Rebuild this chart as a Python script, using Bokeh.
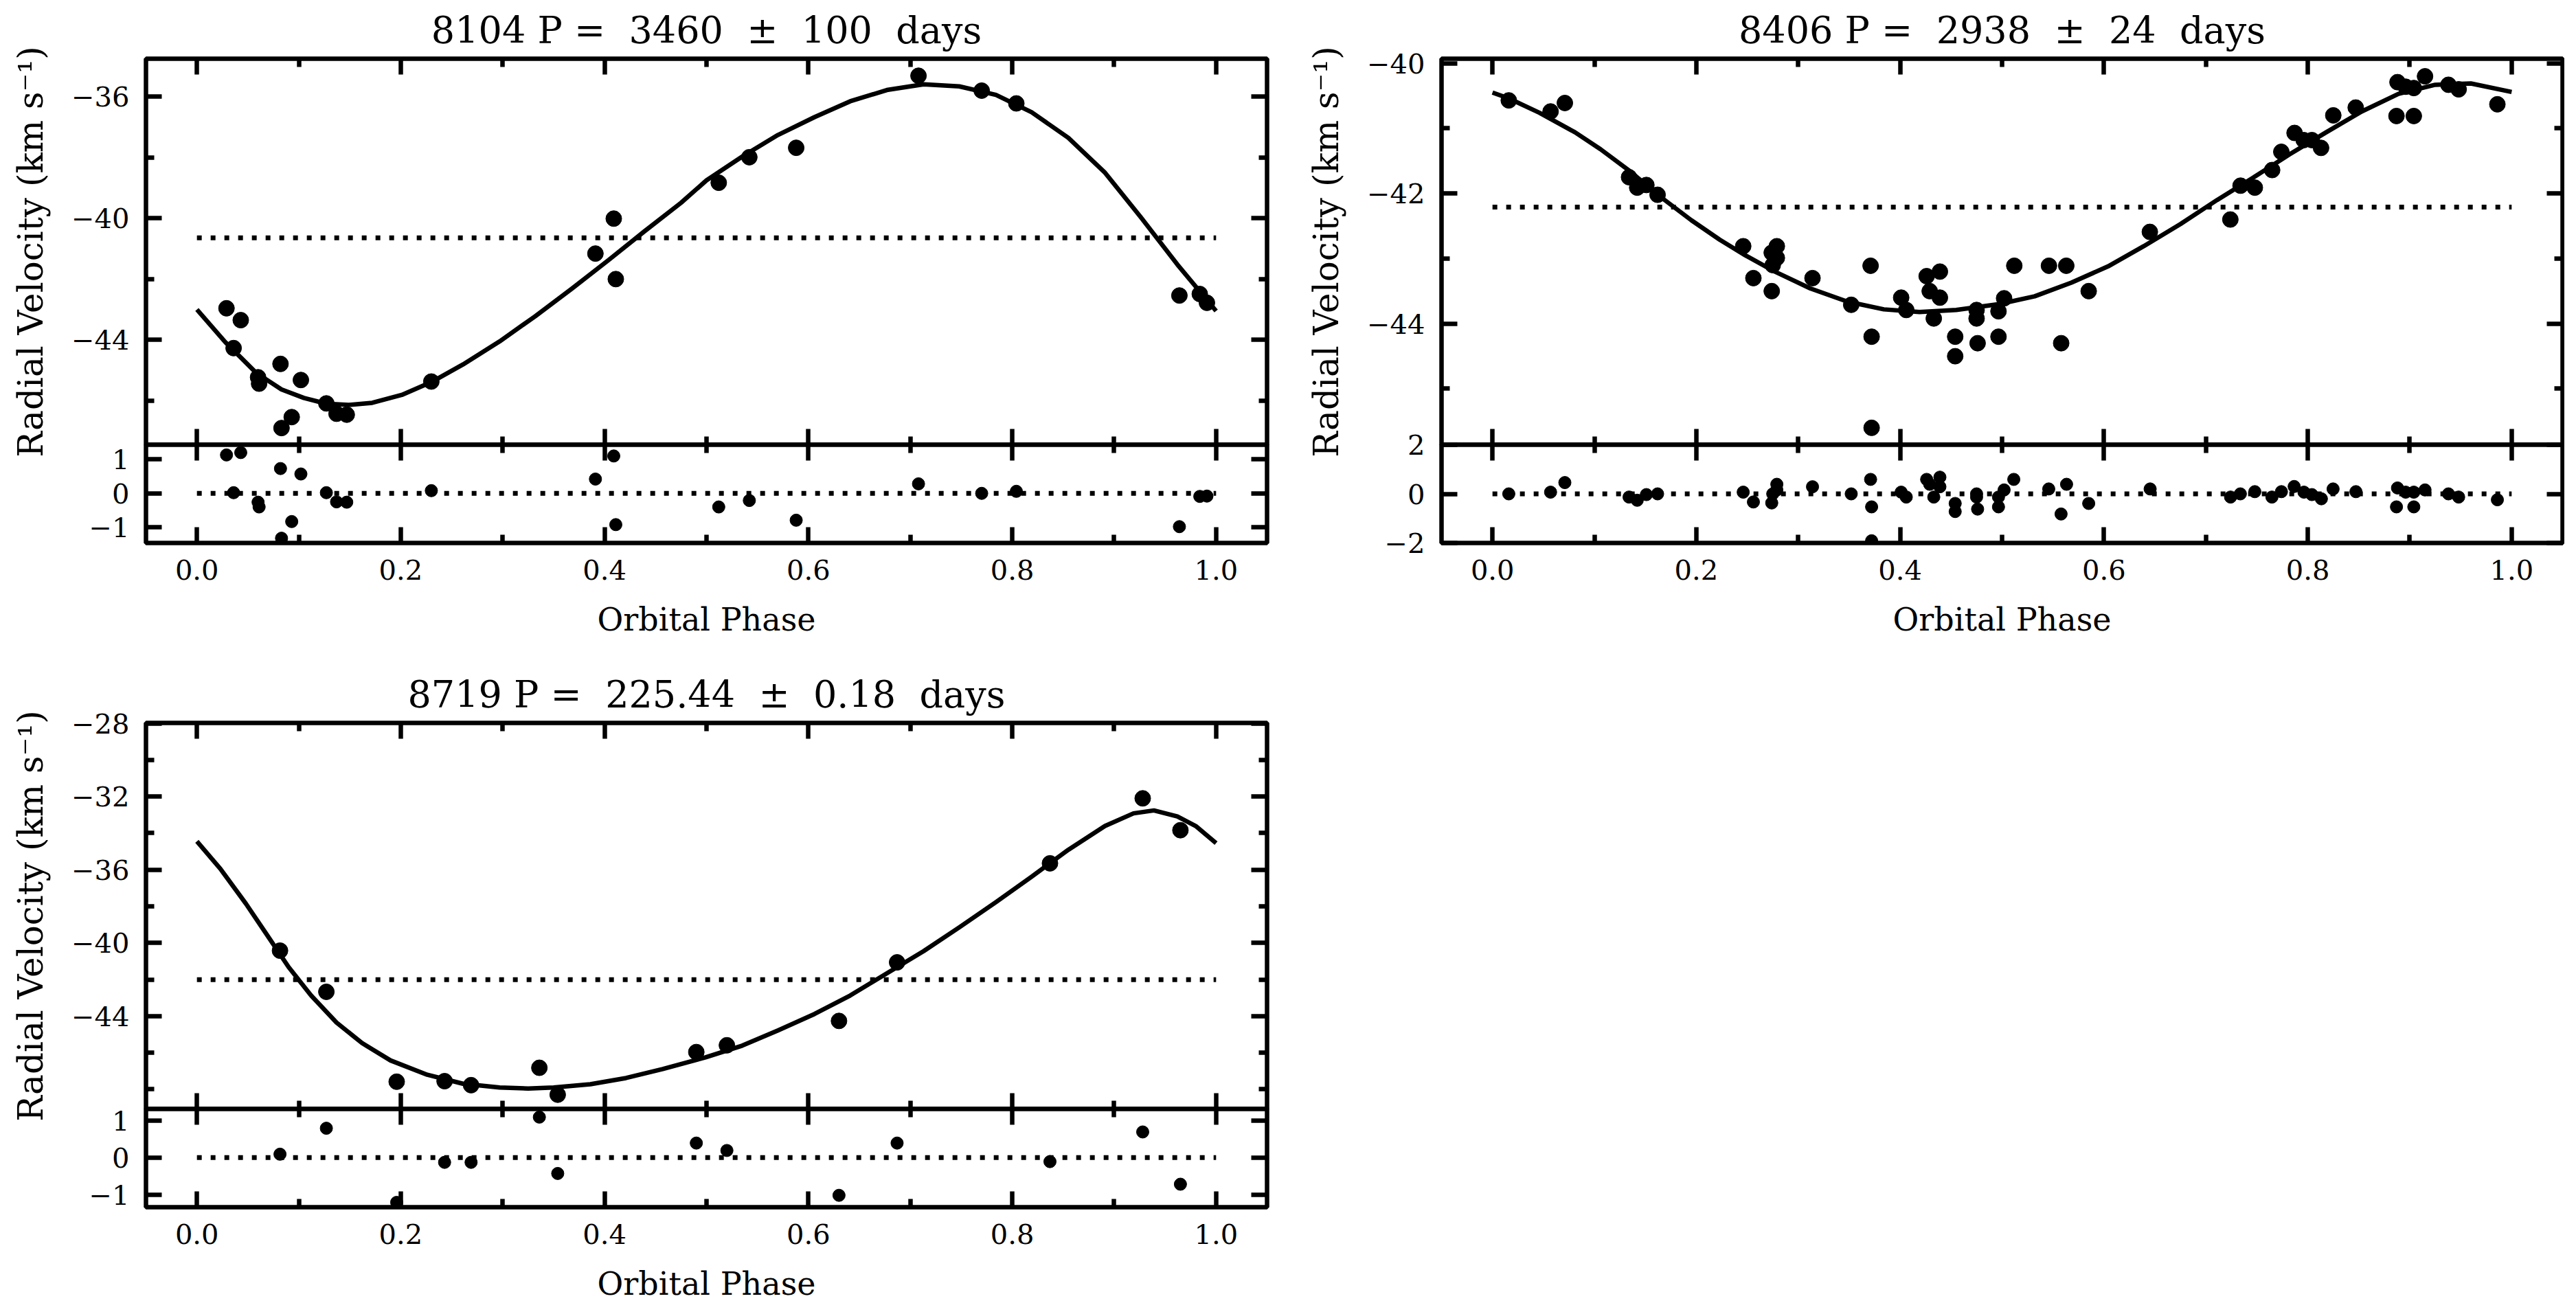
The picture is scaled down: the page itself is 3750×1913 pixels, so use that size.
from bokeh.plotting import figure
from bokeh.models import Range1d, FixedTicker, LinearAxis, CustomJSTickFormatter, PrintfTickFormatter
from bokeh.layouts import row, column
from bokeh.embed import file_html
from bokeh.resources import INLINE

# ------------------------------------------------------------------ data
star_ids = ["8104", "8406", "8719"]
periods = ["3460", "2938", "225.44"]
period_errs = ["100", "24", "0.18"]
gammas = [-40.64, -42.21, -42.01]
phase_span = [0.0, 1.0]

# --- 8104
phase1 = [0.029, 0.043, 0.036, 0.060, 0.061, 0.082, 0.102, 0.083, 0.093, 0.127, 0.137, 0.147,
          0.230, 0.391, 0.409, 0.411, 0.512, 0.542, 0.588, 0.708, 0.770, 0.804, 0.964, 0.984, 0.991]
rv1 = [-42.96, -43.35, -44.27, -45.23, -45.44, -44.79, -45.32, -46.90, -46.54, -46.09, -46.43, -46.46,
       -45.37, -41.16, -40.01, -42.00, -38.83, -37.99, -37.68, -35.31, -35.80, -36.22, -42.54, -42.49, -42.78]
res1 = [1.13, 1.20, 0.02, -0.26, -0.40, 0.73, 0.57, -1.32, -0.83, 0.02, -0.25, -0.26,
        0.08, 0.42, 1.10, -0.92, -0.40, -0.21, -0.79, 0.28, 0.00, 0.06, -0.98, -0.09, -0.08]
curve1_phase = [0.0, 0.028, 0.044, 0.058, 0.083, 0.105, 0.127, 0.149, 0.172, 0.201, 0.230, 0.261,
                0.297, 0.332, 0.368, 0.404, 0.439, 0.475, 0.500, 0.535, 0.570, 0.606, 0.641, 0.677,
                0.713, 0.748, 0.784, 0.819, 0.855, 0.891, 0.926, 0.962, 1.0]
curve1_rv = [-43.00, -44.08, -44.61, -45.08, -45.63, -45.91, -46.10, -46.14, -46.07, -45.81, -45.39, -44.81,
             -44.05, -43.22, -42.31, -41.37, -40.43, -39.49, -38.75, -37.97, -37.26, -36.67, -36.15, -35.78,
             -35.59, -35.66, -35.94, -36.51, -37.35, -38.50, -39.96, -41.52, -43.05]

# --- 8406
phase2 = [0.016, 0.057, 0.071, 0.134, 0.142, 0.151, 0.162, 0.246, 0.256, 0.274, 0.279, 0.279, 0.275, 0.274,
          0.314, 0.352, 0.371, 0.372, 0.372, 0.401, 0.406, 0.426, 0.439, 0.429, 0.439, 0.433, 0.454, 0.454,
          0.475, 0.475, 0.476, 0.502, 0.4965, 0.4965, 0.512, 0.546, 0.563, 0.558, 0.585, 0.645, 0.724, 0.734,
          0.748, 0.765, 0.774, 0.787, 0.796, 0.804, 0.813, 0.825, 0.847, 0.888, 0.896, 0.904, 0.915, 0.938,
          0.948, 0.887, 0.904, 0.986]
rv2 = [-40.57, -40.74, -40.61, -41.75, -41.91, -41.87, -42.02, -42.81, -43.30, -42.91, -42.81, -42.99, -43.10, -43.50,
       -43.30, -43.71, -43.11, -44.20, -45.60, -43.60, -43.79, -43.27, -43.20, -43.50, -43.60, -43.92, -44.20, -44.50,
       -43.79, -43.92, -44.30, -43.61, -43.81, -44.20, -43.11, -43.11, -43.11, -44.30, -43.50, -42.59, -42.40, -41.88,
       -41.91, -41.64, -41.36, -41.07, -41.18, -41.18, -41.30, -40.80, -40.68, -40.29, -40.36, -40.38, -40.20, -40.33,
       -40.40, -40.81, -40.81, -40.63]
res2_phase = [0.016, 0.057, 0.071, 0.134, 0.142, 0.151, 0.162, 0.246, 0.256, 0.279, 0.279, 0.275, 0.274, 0.314,
              0.352, 0.371, 0.372, 0.372, 0.401, 0.406, 0.426, 0.439, 0.429, 0.439, 0.433, 0.454, 0.454, 0.475,
              0.475, 0.476, 0.502, 0.4965, 0.4965, 0.5115, 0.5458, 0.5633, 0.5579, 0.585, 0.6453, 0.7242, 0.7338,
              0.748, 0.7648, 0.7741, 0.7866, 0.7962, 0.804, 0.8133, 0.8248, 0.8472, 0.888, 0.896, 0.904, 0.915,
              0.938, 0.948, 0.887, 0.904, 0.986]
res2 = [0.00, 0.07, 0.46, -0.13, -0.26, -0.03, 0.00, 0.07, -0.33, 0.39, 0.16, 0.00, -0.37, 0.29,
        0.00, 0.59, -0.53, -1.91, 0.07, -0.13, 0.59, 0.68, 0.39, 0.29, -0.13, -0.39, -0.72, 0.00,
        -0.13, -0.62, 0.16, -0.13, -0.53, 0.59, 0.20, 0.39, -0.82, -0.39, 0.20, -0.13, 0.00,
        0.09, -0.13, 0.09, 0.30, 0.07, -0.03, -0.20, 0.20, 0.09, 0.24, 0.07, 0.07, 0.16,
        0.00, -0.13, -0.53, -0.53, -0.24]
curve2_phase = [0.0, 0.016, 0.046, 0.081, 0.106, 0.135, 0.163, 0.195, 0.223, 0.248, 0.277, 0.312, 0.348,
                0.384, 0.419, 0.455, 0.497, 0.532, 0.568, 0.604, 0.639, 0.675, 0.711, 0.746, 0.782, 0.818,
                0.853, 0.889, 0.925, 0.960, 1.0]
curve2_rv = [-40.45, -40.54, -40.76, -41.06, -41.32, -41.66, -42.03, -42.41, -42.71, -42.95, -43.20, -43.46, -43.66,
             -43.78, -43.82, -43.79, -43.70, -43.58, -43.37, -43.12, -42.81, -42.47, -42.10, -41.76, -41.40, -41.06,
             -40.74, -40.47, -40.33, -40.31, -40.44]

# --- 8719
phase3 = [0.0815, 0.127, 0.196, 0.243, 0.269, 0.336, 0.354, 0.490, 0.520, 0.630, 0.687, 0.837, 0.928, 0.965]
rv3 = [-40.42, -42.67, -47.58, -47.55, -47.77, -46.82, -48.29, -45.96, -45.59, -44.26, -41.06, -35.65, -32.10, -33.84]
res3 = [0.09, 0.79, -1.21, -0.13, -0.13, 1.09, -0.43, 0.39, 0.19, -1.02, 0.39, -0.11, 0.69, -0.72]
curve3_phase = [0.0, 0.023, 0.048, 0.069, 0.090, 0.112, 0.137, 0.162, 0.190, 0.226, 0.261, 0.297, 0.325,
                0.350, 0.386, 0.421, 0.457, 0.499, 0.535, 0.570, 0.606, 0.641, 0.677, 0.713, 0.748, 0.784,
                0.819, 0.855, 0.891, 0.919, 0.939, 0.962, 0.980, 1.0]
curve3_rv = [-34.45, -35.95, -37.85, -39.58, -41.32, -42.87, -44.35, -45.47, -46.42, -47.20, -47.69, -47.90, -47.95,
             -47.90, -47.72, -47.38, -46.89, -46.25, -45.61, -44.78, -43.88, -42.87, -41.66, -40.45, -39.15, -37.77,
             -36.38, -34.91, -33.61, -32.92, -32.76, -33.09, -33.61, -34.55]

x_major = [0.0, 0.2, 0.4, 0.6, 0.8, 1.0]
x_minor = [0.1, 0.3, 0.5, 0.7, 0.9]

# ------------------------------------------------------------------ style
FONT = "DejaVu Serif"
LW = 6.5
FRAME_W = 1632
MAIN_H = 562
RES_H = 143
OVERLAP = 34     # main canvas extends below its frame; residual canvas overlaps it
RES_TOP = 26     # residual top border (transparent) so its top tick label is not clipped

minus_fmt = "return (tick < 0 ? '\u2212' : '') + Math.abs(tick).toFixed(0);"


def style_axis(ax, ticker, show_labels, fmt=None):
    ax.ticker = ticker
    ax.axis_line_color = None
    ax.major_tick_in = 23
    ax.major_tick_out = 0
    ax.minor_tick_in = 12
    ax.minor_tick_out = 0
    ax.major_tick_line_width = LW
    ax.minor_tick_line_width = LW
    ax.major_tick_line_color = "black"
    ax.minor_tick_line_color = "black"
    ax.major_label_text_font = FONT
    ax.major_label_text_font_size = "40px"
    ax.major_label_text_color = "black"
    ax.axis_label_text_color = "black"
    if fmt is not None:
        ax.formatter = fmt
    if not show_labels:
        ax.major_label_text_color = None
        ax.major_label_standoff = 0


def base_fig(ylim, fh, left, right, top, bottom, title=None):
    kw = dict(frame_width=FRAME_W, frame_height=fh,
              x_range=Range1d(-0.05, 1.05), y_range=Range1d(*ylim),
              output_backend="svg", toolbar_location=None,
              min_border_left=left, min_border_right=right,
              min_border_top=top, min_border_bottom=bottom)
    if title is not None:
        kw["title"] = title
    p = figure(**kw)
    p.xgrid.visible = False
    p.ygrid.visible = False
    p.outline_line_color = "black"
    p.outline_line_width = LW
    p.background_fill_color = "white"
    return p


def make_panel(k, phase, rv, cph, crv, rph, res, ylim, yt_major, yt_minor, rylim, ryt,
               left, right, top, bottom):
    title = f"{star_ids[k]} P = \u00a0{periods[k]} \u00a0\u00b1 \u00a0{period_errs[k]} \u00a0days"
    m = base_fig(ylim, MAIN_H, left, right, top, OVERLAP, title=title)
    m.title.text_font = FONT
    m.title.text_font_size = "54px"
    m.title.text_font_style = "normal"
    m.title.text_color = "black"
    m.title.align = "center"
    m.title.standoff = 20

    xt = FixedTicker(ticks=x_major, minor_ticks=x_minor)
    yt = FixedTicker(ticks=yt_major, minor_ticks=yt_minor)
    style_axis(m.xaxis[0], xt, False)
    style_axis(m.yaxis[0], yt, True, CustomJSTickFormatter(code=minus_fmt))
    m.yaxis[0].major_label_standoff = 24
    m.yaxis[0].axis_label = "Radial Velocity (km s\u207b\u00b9)"
    m.yaxis[0].axis_label_text_font = FONT
    m.yaxis[0].axis_label_text_font_size = "50px"
    m.yaxis[0].axis_label_text_font_style = "normal"
    m.yaxis[0].axis_label_standoff = 27
    top_ax = LinearAxis()
    style_axis(top_ax, FixedTicker(ticks=x_major, minor_ticks=x_minor), False)
    m.add_layout(top_ax, "above")
    right_ax = LinearAxis()
    style_axis(right_ax, FixedTicker(ticks=yt_major, minor_ticks=yt_minor), False)
    m.add_layout(right_ax, "right")

    m.line(phase_span, [gammas[k], gammas[k]], line_color="black", line_width=7, line_dash="7 13")
    m.line(cph, crv, line_color="black", line_width=LW, line_join="round")
    m.scatter(phase, rv, size=23, color="black", marker="circle")

    r = base_fig(rylim, RES_H, left, right, RES_TOP, bottom)
    r.margin = (-(OVERLAP + RES_TOP), 0, 0, 0)
    r.border_fill_color = None
    style_axis(r.xaxis[0], FixedTicker(ticks=x_major, minor_ticks=x_minor), True,
               PrintfTickFormatter(format="%.1f"))
    r.xaxis[0].major_label_standoff = 24
    r.xaxis[0].axis_label = "Orbital Phase"
    r.xaxis[0].axis_label_text_font = FONT
    r.xaxis[0].axis_label_text_font_size = "46px"
    r.xaxis[0].axis_label_text_font_style = "normal"
    r.xaxis[0].axis_label_standoff = 28
    style_axis(r.yaxis[0], FixedTicker(ticks=ryt, minor_ticks=[]), True, CustomJSTickFormatter(code=minus_fmt))
    r.yaxis[0].major_label_standoff = 24
    rtop = LinearAxis()
    style_axis(rtop, FixedTicker(ticks=x_major, minor_ticks=x_minor), False)
    r.add_layout(rtop, "above")
    rright = LinearAxis()
    style_axis(rright, FixedTicker(ticks=ryt, minor_ticks=[]), False)
    r.add_layout(rright, "right")

    r.line(phase_span, [0, 0], line_color="black", line_width=7, line_dash="7 13")
    r.scatter(rph, res, size=18, color="black", marker="circle")
    return column(m, r)


p1 = make_panel(0, phase1, rv1, curve1_phase, curve1_rv, phase1, res1,
                (-47.45, -34.75), [-44, -40, -36], [-46, -42, -38],
                (-1.46, 1.43), [-1, 0, 1], 212, 42, 84, 150)
p2 = make_panel(1, phase2, rv2, curve2_phase, curve2_rv, res2_phase, res2,
                (-45.86, -39.93), [-44, -42, -40], [-45, -43, -41],
                (-2.0, 2.0), [-2, 0, 2], 212, 3, 84, 150)
p3 = make_panel(2, phase3, rv3, curve3_phase, curve3_rv, phase3, res3,
                (-49.07, -27.98), [-44, -40, -36, -32, -28], [-48, -46, -42, -38, -34, -30],
                (-1.34, 1.31), [-1, 0, 1], 212, 42, 112, 139)

page = column(row(p1, p2), row(p3))

open("out.html", "w").write(file_html(page, INLINE))
